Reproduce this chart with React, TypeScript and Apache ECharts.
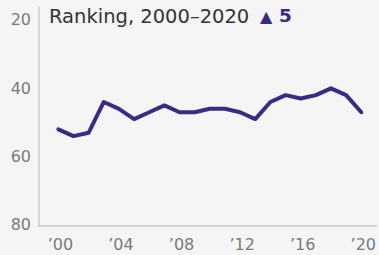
import React, { useEffect, useRef } from "react";
import * as echarts from "echarts";

const years = [2000, 2001, 2002, 2003, 2004, 2005, 2006, 2007, 2008, 2009, 2010, 2011, 2012, 2013, 2014, 2015, 2016, 2017, 2018, 2019, 2020];
const ranking = [52, 54, 53, 44, 46, 49, 47, 45, 47, 47, 46, 46, 47, 49, 44, 42, 43, 42, 40, 42, 47];
const xTicks = [2000, 2004, 2008, 2012, 2016, 2020];
const yTicks = [20, 40, 60, 80];
const titleText = "Ranking, 2000–2020";
const deltaText = "5";

const FONT = "'DejaVu Sans', sans-serif";
const PURPLE = "#3b2a85";

export default function App() {
  const ref = useRef<HTMLDivElement>(null);
  useEffect(() => {
    const chart = echarts.init(ref.current!, null, { renderer: "svg" });
    chart.setOption({
      animation: false,
      backgroundColor: "#f5f5f5",
      textStyle: { fontFamily: FONT },
      graphic: [
        {
          type: "text",
          left: 49,
          top: 6,
          style: { text: titleText, font: `normal 19.5px ${FONT}`, fill: "#333333" },
        },
        {
          type: "text",
          left: 260,
          top: 8,
          style: { text: "▲", font: `normal 16px ${FONT}`, fill: PURPLE },
        },
        {
          type: "text",
          left: 279,
          top: 6,
          style: { text: deltaText, font: `bold 18.5px ${FONT}`, fill: PURPLE },
        },
      ],
      grid: { left: 39, right: 0, top: 7, bottom: 29 },
      xAxis: {
        type: "value",
        min: 1998.72,
        max: 2021.02,
        splitLine: { show: false },
        axisLine: { show: true, lineStyle: { color: "#cccccc", width: 1.5 } },
        axisTick: { show: false },
        axisLabel: {
          customValues: xTicks,
          formatter: (v: number) => "’" + String(v).slice(2),
          color: "#7a7a7a",
          fontFamily: FONT,
          fontSize: 16,
          margin: 10,
          padding: [0, 0, 0, 4],
        },
      },
      yAxis: {
        type: "value",
        inverse: true,
        min: 16.2,
        max: 80.3,
        splitLine: { show: false },
        axisLine: { show: true, lineStyle: { color: "#cccccc", width: 1.5 } },
        axisTick: { show: false },
        axisLabel: {
          customValues: yTicks,
          color: "#7a7a7a",
          fontFamily: FONT,
          fontSize: 16,
          margin: 8,
          padding: [0, 0, 5, 0],
        },
      },
      series: [
        {
          type: "line",
          data: years.map((y, i) => [y, ranking[i]]),
          symbol: "none",
          lineStyle: { color: PURPLE, width: 4, cap: "round", join: "round" },
        },
      ],
    });
    return () => chart.dispose();
  }, []);
  return <div ref={ref} style={{ position: "fixed", left: 0, top: 0, width: 379, height: 255 }} />;
}
